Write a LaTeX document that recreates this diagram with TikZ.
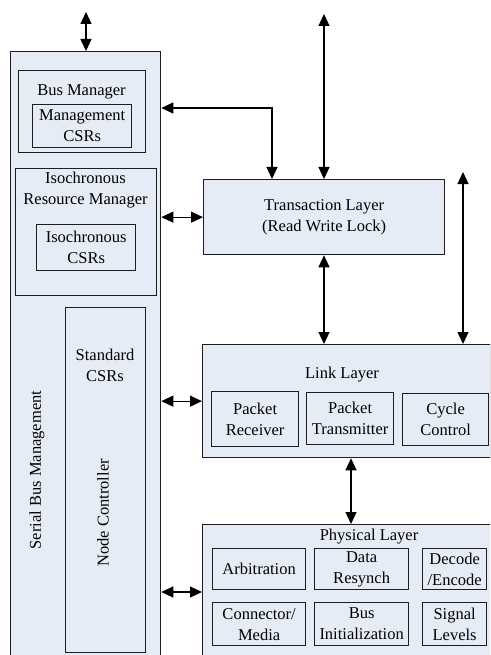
\documentclass[tikz,border=0pt]{standalone}
\usepackage{fontspec}
\setmainfont{Liberation Serif}
\usetikzlibrary{arrows.meta,calc}
\definecolor{boxfill}{RGB}{230,236,246}
\definecolor{edge}{RGB}{30,30,30}
\begin{document}
\begin{tikzpicture}[x=1pt,y=-1pt,
  box/.style={draw=edge,fill=boxfill,line width=1.3pt,anchor=north west,inner sep=0pt,
    align=center,font=\fontsize{16.5}{21}\selectfont},
  lbl/.style={inner sep=0pt,align=center,font=\fontsize{16.5}{21}\selectfont},
  dar/.style={line width=1.2pt,{Triangle[length=12pt,width=11pt]}-{Triangle[length=12pt,width=11pt]}}]
\useasboundingbox (0,0) rectangle (490,655);
\clip (0,0) rectangle (490,655);
% left column
\node[box,minimum width=150pt,minimum height=640pt] (sbm) at (10,51) {};
\node[lbl,rotate=90] (sbmlbl) at (37,470) {Serial Bus Management};
\node[box,minimum width=127pt,minimum height=82pt] (bm) at (18,70) {};
\node[lbl] (bmlbl) at (81.5,92) {Bus Manager};
\node[box,minimum width=99pt,minimum height=43pt] (mcsr) at (32,104) {Management\\CSRs};
\node[box,minimum width=141pt,minimum height=127pt] (irm) at (15,168) {};
\node[lbl] (irmlbl) at (85.5,190) {Isochronous\\Resource Manager};
\node[box,minimum width=99pt,minimum height=46pt] (icsr) at (36,224) {Isochronous\\CSRs};
\node[box,minimum width=80pt,minimum height=345pt] (nc) at (65,307) {};
\node[lbl] (nclbl) at (105,365) {Standard\\CSRs};
\node[lbl,rotate=90] (ncname) at (103,513) {Node Controller};
% transaction layer
\node[box,minimum width=241pt,minimum height=75pt] (tl) at (203,179) {Transaction Layer\\(Read Write Lock)};
% link layer
\node[box,minimum width=287.5pt,minimum height=113pt] (ll) at (202,344) {};
\node[lbl] (lllbl) at (342,375) {Link Layer};
\node[box,minimum width=87pt,minimum height=55pt] (pr) at (211,391) {Packet\\Receiver};
\node[box,minimum width=87pt,minimum height=52pt] (pt) at (306,392) {Packet\\Transmitter};
\node[box,minimum width=86pt,minimum height=52pt] (cc) at (402,393) {Cycle\\Control};
% physical layer
\node[box,minimum width=300pt,minimum height=150pt] (pl) at (202,524) {};
\node[lbl] (pllbl) at (369,537) {Physical Layer};
\node[box,minimum width=93pt,minimum height=41pt] (arb) at (212,548) {Arbitration};
\node[box,minimum width=94pt,minimum height=41pt] (dr) at (314,548) {Data\\Resynch};
\node[box,minimum width=64pt,minimum height=41pt] (de) at (422,548) {Decode\\/Encode};
\node[box,minimum width=93pt,minimum height=43pt] (cm) at (212,602) {Connector/\\Media};
\node[box,minimum width=94pt,minimum height=43pt] (bi) at (314,602) {Bus\\Initialization};
\node[box,minimum width=64pt,minimum height=43pt] (sl) at (422,602) {Signal\\Levels};
% connector end points
\coordinate (topL) at (86,12);
\coordinate (topT) at (324,14);
\coordinate (rtop) at (463,172);
\coordinate (bmc) at (272,108);
\coordinate (lpx) at (351,0);
\coordinate (phy) at (0,592);
% connectors
\draw[dar] (topL) -- (topL |- sbm.north);
\draw[dar] (sbm.east |- bmc) -- (bmc) -- (bmc |- tl.north);
\draw[dar] (topT) -- (topT |- tl.north);
\draw[dar] (rtop) -- (rtop |- ll.north);
\draw[dar] (sbm.east |- tl.west) -- (tl.west);
\draw[dar] (tl.south -| topT) -- (ll.north -| topT);
\draw[dar] (sbm.east |- ll.west) -- (ll.west);
\draw[dar] (ll.south -| lpx) -- (pl.north -| lpx);
\draw[dar] (sbm.east |- phy) -- (pl.west |- phy);
\end{tikzpicture}
\end{document}
